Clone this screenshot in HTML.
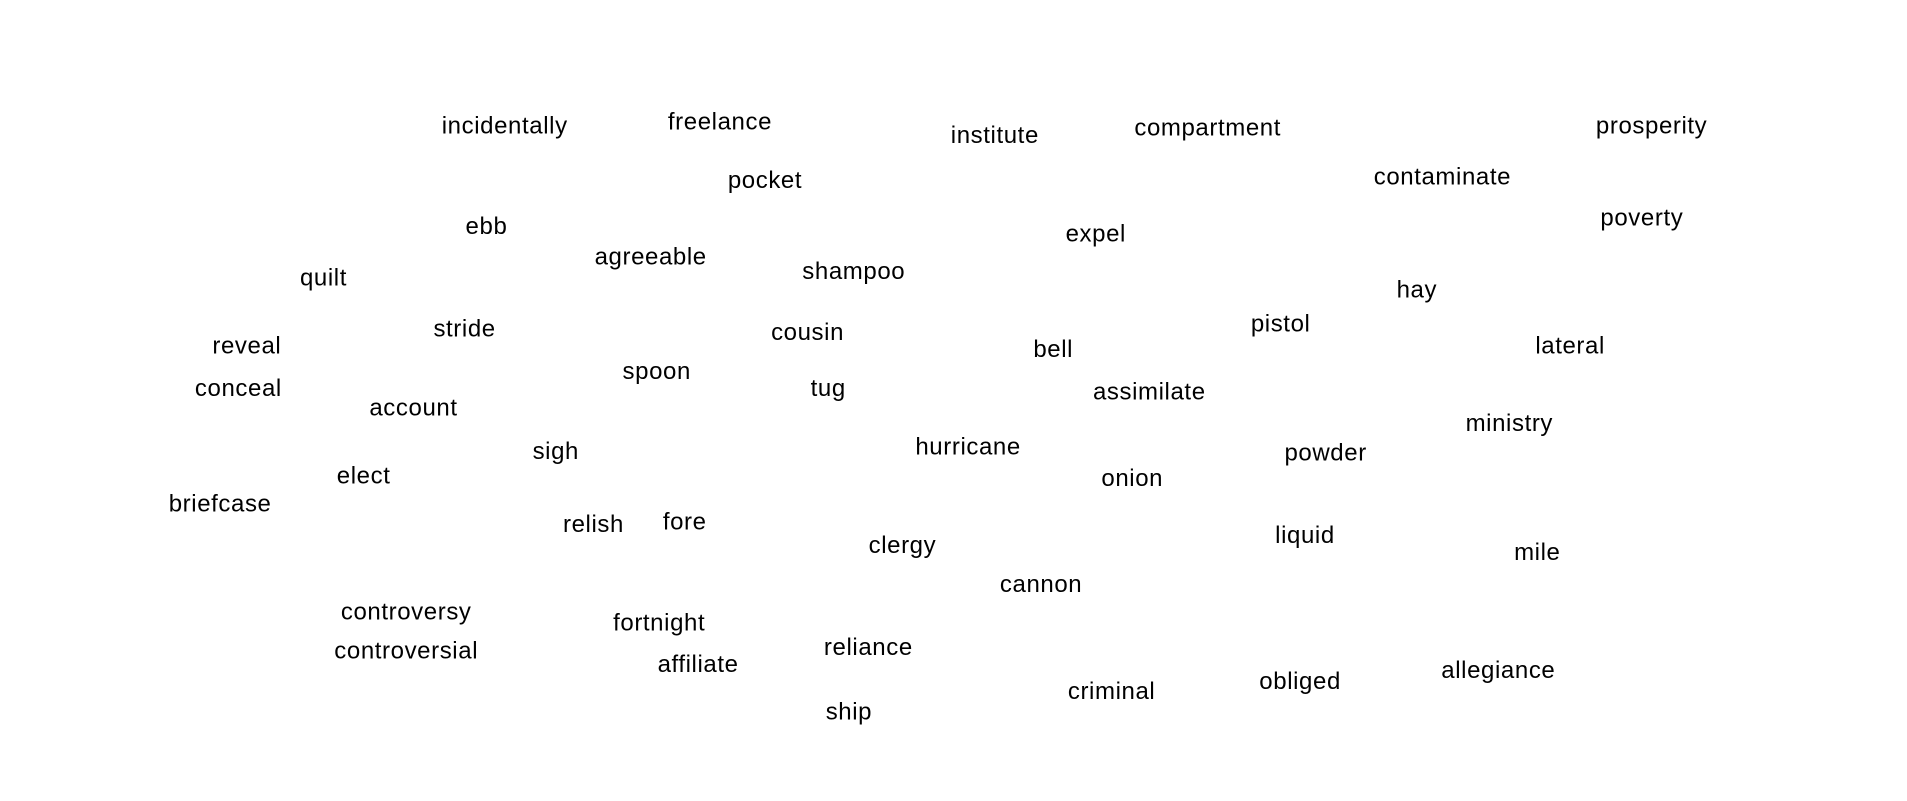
<!DOCTYPE html>
<html><head><meta charset="utf-8"><style>
html,body{margin:0;padding:0;background:#fff;}
svg text{font-family:"Liberation Sans",sans-serif;font-size:24px;letter-spacing:0.6px;fill:#000;}
</style></head><body>
<svg id="chart" width="1907" height="796" viewBox="0 0 1907 796" xmlns="http://www.w3.org/2000/svg"></svg>
<script>
const words=["incidentally","freelance","institute","compartment","prosperity","pocket","contaminate","poverty","ebb","expel","agreeable","shampoo","quilt","hay","pistol","stride","cousin","reveal","bell","lateral","spoon","tug","conceal","assimilate","account","ministry","hurricane","sigh","powder","elect","onion","briefcase","relish","fore","liquid","clergy","mile","cannon","controversy","fortnight","controversial","reliance","affiliate","allegiance","obliged","criminal","ship"];
const xs=[415,592,818,993,1358,629,1186,1350,400,901,535,702,266,1165,1053,382,664,203,866,1291,540,681,196,945,340,1241,796,457,1090,299,931,181,488,563,1073,742,1264,856,334,542,334,714,574,1232,1069,914,698];
const ys=[103,100,111,105,103,148,145,179,186,192,211,223,228,238,266,270,273,284,287,284,305,319,319,322,335,348,367,371,372,391,393,414,431,429,440,448,454,480,503,512,535,532,546,551,560,568,585];
const S=1907/1568;
const sx=v=>v*S, sy=v=>v*S;
const svg=document.getElementById('chart');
words.forEach((w,i)=>{
  const t=document.createElementNS('http://www.w3.org/2000/svg','text');
  t.setAttribute('x',sx(xs[i]));
  t.setAttribute('y',sy(ys[i])+8);
  t.setAttribute('text-anchor','middle');
  
  
  t.textContent=w;
  svg.appendChild(t);
});
</script>
</body></html>
